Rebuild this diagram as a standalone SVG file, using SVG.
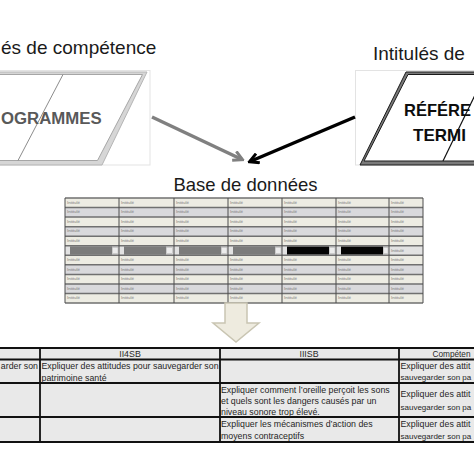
<svg xmlns="http://www.w3.org/2000/svg" width="474" height="474" viewBox="0 0 474 474">
<style>
.ttl{font-family:"Liberation Sans",Arial,sans-serif;font-size:19px;fill:#1a1a1a}
.big{font-family:"Liberation Sans",Arial,sans-serif;font-weight:bold;font-size:17.5px}
.c{font-family:"Liberation Sans",Arial,sans-serif;font-size:4.4px;fill:#7a7a7a}
.tb{font-family:"Liberation Sans",Arial,sans-serif;font-size:8.8px;fill:#262626}
.sm{font-size:8px}
.mid{text-anchor:middle}
.hl{stroke:#707070;stroke-width:1.5;fill:none}
.vl{stroke:#4d4d4d;stroke-width:1;fill:none}
.bk{stroke:#111;stroke-width:2;fill:none}
</style>
<defs>
<marker id="ag" viewBox="0 0 10 10" refX="8" refY="5" markerWidth="3.5" markerHeight="3.5" orient="auto"><path d="M1,1 L8.5,5 L1,9" fill="none" stroke="#808080" stroke-width="2.4"/></marker>
<marker id="ab" viewBox="0 0 10 10" refX="8" refY="5" markerWidth="3.5" markerHeight="3.5" orient="auto"><path d="M1,1 L8.5,5 L1,9" fill="none" stroke="#000" stroke-width="2.4"/></marker>
</defs>
<rect width="474" height="474" fill="#fff"/>

<g id="title-left"><text class="ttl" x="1" y="54">és de compétence</text></g>
<g id="title-right"><text class="ttl" x="373" y="60">Intitulés de</text></g>

<g id="programmes">
<rect x="-2" y="70.5" width="152" height="94.5" fill="#fff" stroke="#e3e3e3"/>
<polygon points="-48,72 147,72 102,165 -93,165" fill="#d6d6d6" stroke="#b5b5b5"/>
<polygon points="-46,74.5 142.5,74.5 97.5,160.5 -91,160.5" fill="#fff" stroke="#a6a6a6"/>
<line x1="63" y1="74.5" x2="18" y2="160.5" stroke="#8c8c8c" stroke-width="1"/>
<text class="big" x="1" y="124" fill="#595959" style="font-size:16.8px">OGRAMMES</text>
</g>

<g id="referentiels">
<rect x="355.5" y="70.5" width="130" height="94.5" fill="#fff" stroke="#e3e3e3"/>
<polygon points="406,72 530,72 530,165 360,165" fill="#7a7a7a" stroke="#1a1a1a"/>
<polygon points="408,74.5 530,74.5 530,161 364,161" fill="#fff" stroke="#1a1a1a"/>
<line x1="485" y1="74.5" x2="443" y2="161" stroke="#111" stroke-width="1.2"/>
<text class="big" x="404" y="116" fill="#0d0d0d" style="font-size:16.5px">RÉFÉRE</text>
<text class="big" x="413" y="141" fill="#0d0d0d" style="font-size:17px">TERMI</text>
</g>

<g id="base-title"><text class="ttl mid" x="245.5" y="191" style="font-size:18.5px">Base de données</text></g>

<g id="base">
<rect x="65" y="198" width="358" height="9.55" fill="#edece3"/>
<rect x="65" y="207.55" width="358" height="9.55" fill="#d9d9dc"/>
<rect x="65" y="217.1" width="358" height="9.55" fill="#edece3"/>
<rect x="65" y="226.65" width="358" height="9.55" fill="#d9d9dc"/>
<rect x="65" y="236.2" width="358" height="9.55" fill="#edece3"/>
<rect x="65" y="245.75" width="358" height="9.55" fill="#e2e2e2"/>
<rect x="65" y="255.3" width="358" height="9.55" fill="#edece3"/>
<rect x="65" y="264.85" width="358" height="9.55" fill="#d9d9dc"/>
<rect x="65" y="274.4" width="358" height="9.55" fill="#edece3"/>
<rect x="65" y="283.95" width="358" height="9.55" fill="#d9d9dc"/>
<rect x="65" y="293.5" width="358" height="9.55" fill="#edece3"/>
<g fill="#7b7b7b">
<rect x="70" y="246.4" width="42" height="8.3"/>
<rect x="124" y="246.4" width="42" height="8.3"/>
<rect x="179" y="246.4" width="42" height="8.3"/>
<rect x="233" y="246.4" width="42" height="8.3"/>
</g>
<g fill="#050505">
<rect x="287" y="246.4" width="42" height="8.3"/>
<rect x="341" y="246.4" width="42" height="8.3"/>
</g>
<g fill="#ececec" stroke="#b0b0b0" stroke-width="0.5">
<rect x="112.5" y="247.5" width="5.5" height="6"/>
<rect x="166.5" y="247.5" width="6" height="6"/>
<rect x="221.5" y="247.5" width="5.5" height="6"/>
<rect x="275.5" y="247.5" width="5.5" height="6"/>
<rect x="329.5" y="247.5" width="5.5" height="6"/>
<rect x="383.5" y="247.5" width="4.5" height="6"/>
</g>
<path class="hl" d="M65,198H423M65,207.55H423M65,217.1H423M65,226.65H423M65,236.2H423M65,245.75H423M65,255.3H423M65,264.85H423M65,274.4H423M65,283.95H423M65,293.5H423M65,303.05H423"/>
<path class="vl" d="M65,198V303M119,198V303M174,198V303M228,198V303M282,198V303M336,198V303M389,198V303M423,198V303"/>
<g class="c">
<text y="203.8"><tspan x="67">Intitulé</tspan><tspan x="121">Intitulé</tspan><tspan x="176">Intitulé</tspan><tspan x="230">Intitulé</tspan><tspan x="284">Intitulé</tspan><tspan x="338">Intitulé</tspan><tspan x="391">Intitulé</tspan></text>
<text y="213.35"><tspan x="67">Intitulé</tspan><tspan x="121">Intitulé</tspan><tspan x="176">Intitulé</tspan><tspan x="230">Intitulé</tspan><tspan x="284">Intitulé</tspan><tspan x="338">Intitulé</tspan><tspan x="391">Intitulé</tspan></text>
<text y="222.9"><tspan x="67">Intitulé</tspan><tspan x="121">Intitulé</tspan><tspan x="176">Intitulé</tspan><tspan x="230">Intitulé</tspan><tspan x="284">Intitulé</tspan><tspan x="338">Intitulé</tspan><tspan x="391">Intitulé</tspan></text>
<text y="232.45"><tspan x="67">Intitulé</tspan><tspan x="121">Intitulé</tspan><tspan x="176">Intitulé</tspan><tspan x="230">Intitulé</tspan><tspan x="284">Intitulé</tspan><tspan x="338">Intitulé</tspan><tspan x="391">Intitulé</tspan></text>
<text y="242"><tspan x="67">Intitulé</tspan><tspan x="121">Intitulé</tspan><tspan x="176">Intitulé</tspan><tspan x="230">Intitulé</tspan><tspan x="284">Intitulé</tspan><tspan x="338">Intitulé</tspan><tspan x="391">Intitulé</tspan></text>
<text x="391" y="251.55">Intitulé</text>
<text y="261.1"><tspan x="67">Intitulé</tspan><tspan x="121">Intitulé</tspan><tspan x="176">Intitulé</tspan><tspan x="230">Intitulé</tspan><tspan x="284">Intitulé</tspan><tspan x="338">Intitulé</tspan><tspan x="391">Intitulé</tspan></text>
<text y="270.65"><tspan x="67">Intitulé</tspan><tspan x="121">Intitulé</tspan><tspan x="176">Intitulé</tspan><tspan x="230">Intitulé</tspan><tspan x="284">Intitulé</tspan><tspan x="338">Intitulé</tspan><tspan x="391">Intitulé</tspan></text>
<text y="280.2"><tspan x="67">Intitulé</tspan><tspan x="121">Intitulé</tspan><tspan x="176">Intitulé</tspan><tspan x="230">Intitulé</tspan><tspan x="284">Intitulé</tspan><tspan x="338">Intitulé</tspan><tspan x="391">Intitulé</tspan></text>
<text y="289.75"><tspan x="67">Intitulé</tspan><tspan x="121">Intitulé</tspan><tspan x="176">Intitulé</tspan><tspan x="230">Intitulé</tspan><tspan x="284">Intitulé</tspan><tspan x="338">Intitulé</tspan><tspan x="391">Intitulé</tspan></text>
<text y="299.3"><tspan x="67">Intitulé</tspan><tspan x="121">Intitulé</tspan><tspan x="176">Intitulé</tspan><tspan x="230">Intitulé</tspan><tspan x="284">Intitulé</tspan><tspan x="338">Intitulé</tspan><tspan x="391">Intitulé</tspan></text>
</g>
</g>

<g id="connectors">
<line x1="152" y1="117" x2="242" y2="159.5" stroke="#808080" stroke-width="3.5" marker-end="url(#ag)"/>
<line x1="355" y1="117" x2="250" y2="161.5" stroke="#000" stroke-width="3.5" marker-end="url(#ab)"/>
<polygon points="225,303 247,303 247,323 259,323 236,342 213,323 225,323" fill="#eeebdf" stroke="#c9c5b2" stroke-width="1.5"/>
</g>

<g id="table">
<rect x="0" y="348" width="474" height="94" fill="#e9e9e9"/>
<path class="bk" d="M0,348H474M0,359.5H474M0,383H474M0,417H474M0,442H474"/>
<path class="bk" d="M40,348V442M220,348V442M399,348V442" style="stroke-width:1.8"/>
<g class="tb">
<text class="mid" x="130" y="356.5">II4SB</text>
<text class="mid" x="309" y="356.5">IIISB</text>
<text x="432.5" y="356.5" textLength="38" lengthAdjust="spacingAndGlyphs">Compéten</text>
<text x="38" y="369" text-anchor="end">arder son</text>
<text x="41.5" y="369">Expliquer des attitudes pour sauvegarder son</text>
<text x="41.5" y="380.5">patrimoine santé</text>
<text x="400.5" y="368.5">Expliquer des attit</text>
<text class="sm" x="400.5" y="380">sauvegarder son pa</text>
<text x="221" y="393">Expliquer comment l’oreille perçoit les sons</text>
<text x="221" y="404">et quels sont les dangers causés par un</text>
<text x="221" y="415">niveau sonore trop élevé.</text>
<text x="400.5" y="397">Expliquer des attit</text>
<text class="sm" x="400.5" y="409.5">sauvegarder son pa</text>
<text x="221" y="427">Expliquer les mécanismes d’action des</text>
<text x="221" y="438.5">moyens contraceptifs</text>
<text x="400.5" y="427">Expliquer des attit</text>
<text class="sm" x="400.5" y="439">sauvegarder son pa</text>
</g>
</g>
</svg>
